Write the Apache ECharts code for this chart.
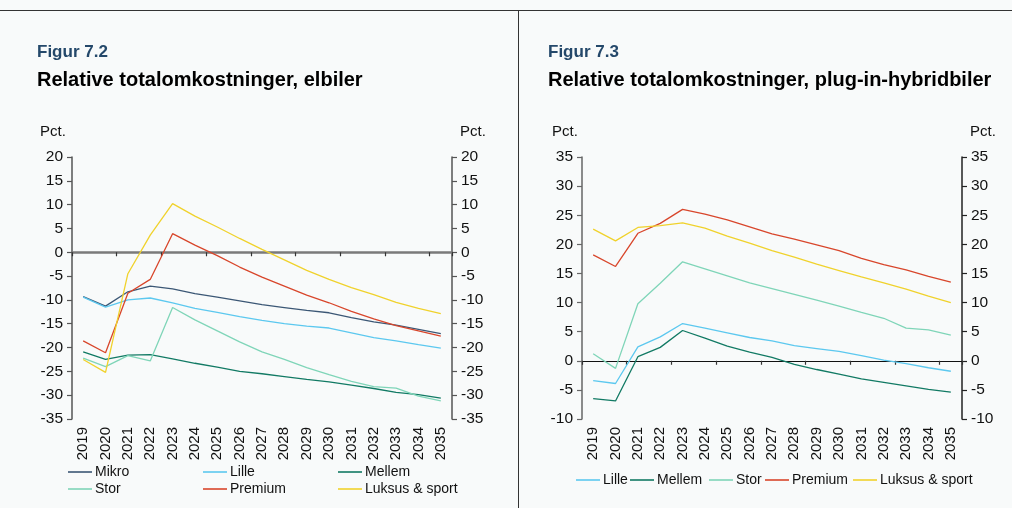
<!DOCTYPE html>
<html>
<head>
<meta charset="utf-8">
<script src="https://cdn.jsdelivr.net/npm/echarts@6/dist/echarts.min.js"></script>
<style>
html,body{margin:0;padding:0;background:#f8fafa;}
#c{width:1012px;height:508px;}
</style>
</head>
<body>
<div id="c"></div>
<script>
const years = ['2019','2020','2021','2022','2023','2024','2025','2026','2027','2028','2029','2030','2031','2032','2033','2034','2035'];

// Figur 7.2 - elbiler
const evMikro   = [-9.3,-11.3,-8.3,-7.1,-7.7,-8.7,-9.4,-10.2,-11.0,-11.6,-12.2,-12.7,-13.7,-14.6,-15.3,-16.2,-17.1];
const evLille   = [-9.4,-11.5,-10.0,-9.6,-10.6,-11.8,-12.6,-13.5,-14.3,-15.0,-15.5,-15.9,-16.9,-17.9,-18.6,-19.4,-20.1];
const evMellem  = [-20.9,-22.5,-21.6,-21.5,-22.4,-23.3,-24.1,-25.0,-25.5,-26.1,-26.7,-27.2,-27.9,-28.6,-29.4,-29.9,-30.6];
const evStor    = [-22.2,-24.0,-21.7,-22.8,-11.6,-14.2,-16.5,-18.8,-20.9,-22.5,-24.2,-25.7,-27.1,-28.2,-28.5,-30.2,-31.2];
const evPremium = [-18.6,-21.1,-8.6,-5.7,3.9,1.5,-0.7,-3.1,-5.2,-7.1,-9.0,-10.6,-12.4,-14.0,-15.4,-16.5,-17.6];
const evLuksus  = [-22.5,-25.2,-4.5,3.6,10.2,7.6,5.3,2.9,0.6,-1.6,-3.8,-5.7,-7.4,-8.9,-10.5,-11.8,-12.9];

// Figur 7.3 - plug-in-hybridbiler
const phLille   = [-3.4,-3.9,2.4,4.1,6.4,5.6,4.8,4.0,3.4,2.6,2.1,1.6,0.9,0.1,-0.5,-1.2,-1.8];
const phMellem  = [-6.5,-6.9,0.7,2.3,5.2,3.9,2.5,1.5,0.6,-0.6,-1.5,-2.3,-3.1,-3.7,-4.3,-4.9,-5.4];
const phStor    = [1.2,-1.3,9.8,13.3,17.0,15.8,14.6,13.4,12.4,11.4,10.4,9.4,8.3,7.3,5.6,5.3,4.4];
const phPremium = [18.2,16.2,21.9,23.6,26.0,25.2,24.2,23.0,21.8,20.9,19.9,18.9,17.6,16.5,15.6,14.5,13.5];
const phLuksus  = [22.6,20.6,22.9,23.2,23.7,22.8,21.4,20.2,18.9,17.8,16.6,15.5,14.4,13.4,12.3,11.1,10.0];

const yTicksLeft = [-35,20,5];   // min, max, interval
const yTicksRight = [-10,35,5];

const colors = {
  Mikro:'#3b5775', Lille:'#5cc8ef', Mellem:'#127a64', Stor:'#7fd5b8', Premium:'#d8462b', 'Luksus & sport':'#f0d22c'
};
const FONT = '"Liberation Sans", Arial, sans-serif';

function line(name, data, xi, yi) {
  return {name, type:'line', data, xAxisIndex:xi, yAxisIndex:yi, symbol:'none', smooth:false,
    lineStyle:{width:1.3, color:colors[name]}, itemStyle:{color:colors[name]}, z:3};
}
function yAx(grid, r, pos, color) {
  return {type:'value', gridIndex:grid, min:r[0], max:r[1], interval:r[2], position:pos,
    axisLine:{show:true, onZero:false, lineStyle:{color:color, width:1.5}},
    axisTick:{show:true, length:5, inside:false, lineStyle:{color:color, width:1.2}},
    splitLine:{show:false},
    axisLabel:{fontSize:15.5, color:'#111', margin:9, fontFamily:FONT}};
}
function xLab(grid) {
  return {type:'category', gridIndex:grid, data:years, position:'bottom', boundaryGap:true,
    axisLine:{show:false, onZero:false}, axisTick:{show:false},
    axisLabel:{rotate:90, interval:0, fontSize:15, color:'#111', margin:8, fontFamily:FONT}};
}
function xZero(grid, color, width) {
  return {type:'category', gridIndex:grid, data:years, position:'bottom', boundaryGap:true,
    axisLine:{show:true, onZero:true, lineStyle:{color:color, width:width}},
    axisTick:{show:true, length:4, inside:false, lineStyle:{color:'#333', width:1.2}},
    axisLabel:{show:false}};
}
function leg(name, x, y) {
  return {data:[name], left:x, top:y, padding:0, icon:'rect', itemWidth:24, itemHeight:1.6, itemGap:0,
    textStyle:{fontSize:14, color:'#111', fontFamily:FONT, padding:[0,0,0,-2]}, selectedMode:false};
}

const chart = echarts.init(document.getElementById('c'));
chart.setOption({
  backgroundColor:'#f8fafa',
  animation:false,
  grid:[
    {left:72, top:157, width:380, height:262},
    {left:582, top:157, width:380, height:262}
  ],
  xAxis:[xLab(0), xZero(0,'#7a7a7a',2.5), xLab(1), xZero(1,'#111',1)],
  yAxis:[yAx(0,yTicksLeft,'left','#555'), yAx(0,yTicksLeft,'right','#555'),
         yAx(1,yTicksRight,'left','#666'), yAx(1,yTicksRight,'right','#222')],
  legend:[
    leg('Mikro',68,465), leg('Lille',203,465), leg('Mellem',338,465),
    leg('Stor',68,482), leg('Premium',203,482), leg('Luksus & sport',338,482),
    leg('Lille',576,473), leg('Mellem',630,473), leg('Stor',709,473), leg('Premium',765,473), leg('Luksus & sport',853,473)
  ],
  series:[
    line('Mikro', evMikro, 0, 0),
    line('Lille', evLille, 0, 0),
    line('Mellem', evMellem, 0, 0),
    line('Stor', evStor, 0, 0),
    line('Premium', evPremium, 0, 0),
    line('Luksus & sport', evLuksus, 0, 0),
    line('Lille', phLille, 2, 2),
    line('Mellem', phMellem, 2, 2),
    line('Stor', phStor, 2, 2),
    line('Premium', phPremium, 2, 2),
    line('Luksus & sport', phLuksus, 2, 2)
  ],
  graphic:[
    {type:'line', shape:{x1:0,y1:10.5,x2:1012,y2:10.5}, style:{stroke:'#333', lineWidth:1}},
    {type:'line', shape:{x1:518.5,y1:10,x2:518.5,y2:508}, style:{stroke:'#333', lineWidth:1}},
    {type:'text', x:37, y:52, style:{text:'Figur 7.2', font:'bold 17px '+FONT, fill:'#24486a', verticalAlign:'middle'}},
    {type:'text', x:37, y:80, style:{text:'Relative totalomkostninger, elbiler', font:'bold 20px '+FONT, fill:'#000', verticalAlign:'middle'}},
    {type:'text', x:548, y:52, style:{text:'Figur 7.3', font:'bold 17px '+FONT, fill:'#24486a', verticalAlign:'middle'}},
    {type:'text', x:548, y:80, style:{text:'Relative totalomkostninger, plug-in-hybridbiler', font:'bold 20px '+FONT, fill:'#000', verticalAlign:'middle'}},
    {type:'text', x:40, y:132, style:{text:'Pct.', font:'15px '+FONT, fill:'#111', verticalAlign:'middle'}},
    {type:'text', x:460, y:132, style:{text:'Pct.', font:'15px '+FONT, fill:'#111', verticalAlign:'middle'}},
    {type:'text', x:552, y:132, style:{text:'Pct.', font:'15px '+FONT, fill:'#111', verticalAlign:'middle'}},
    {type:'text', x:970, y:132, style:{text:'Pct.', font:'15px '+FONT, fill:'#111', verticalAlign:'middle'}}
  ]
});
</script>
</body>
</html>
